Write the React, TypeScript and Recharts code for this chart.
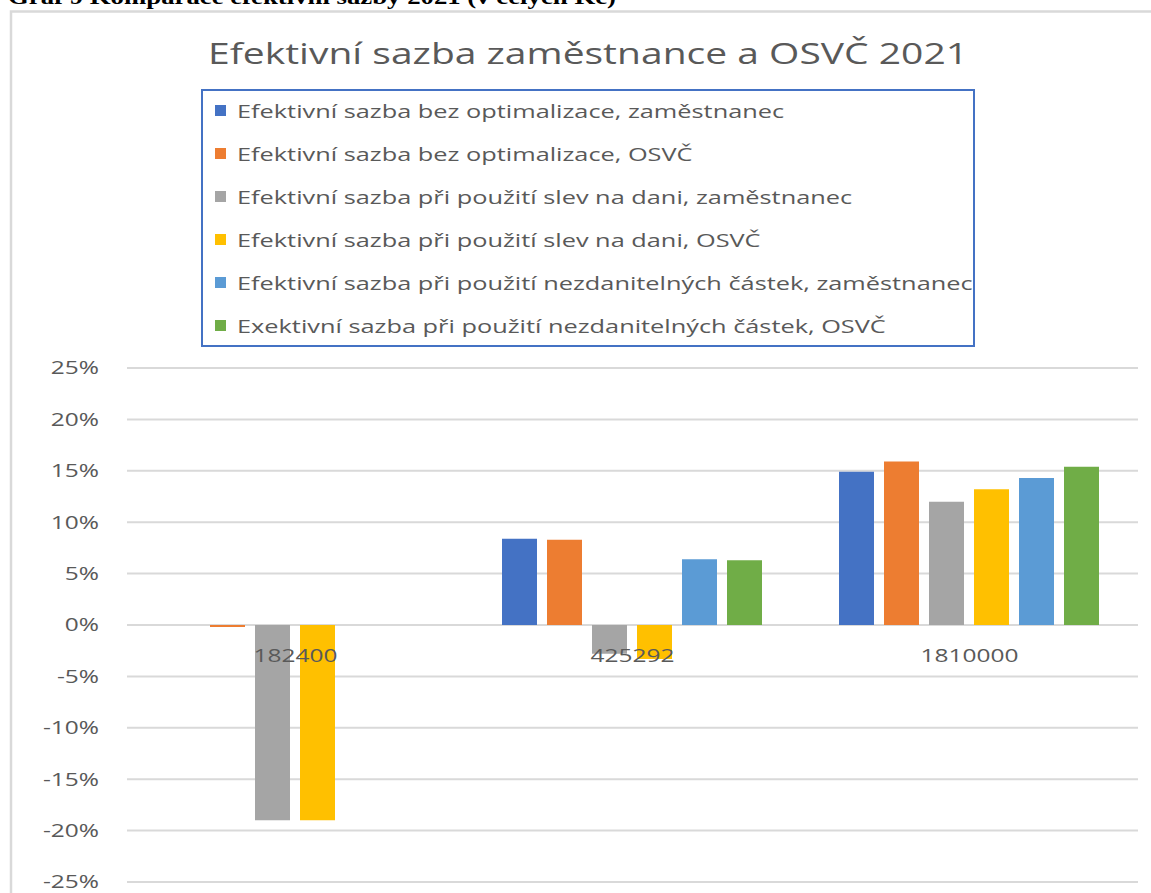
import React from 'react';
import { BarChart, Bar, XAxis, YAxis, CartesianGrid, Legend, ReferenceDot } from 'recharts';

const categories = ['182400', '425292', '1810000'];
const seriesNames = [
  'Efektivní sazba bez optimalizace, zaměstnanec',
  'Efektivní sazba bez optimalizace, OSVČ',
  'Efektivní sazba při použití slev na dani, zaměstnanec',
  'Efektivní sazba při použití slev na dani, OSVČ',
  'Efektivní sazba při použití nezdanitelných částek, zaměstnanec',
  'Exektivní sazba při použití nezdanitelných částek, OSVČ',
];
const seriesColors = ['#4472C4', '#ED7D31', '#A5A5A5', '#FFC000', '#5B9BD5', '#70AD47'];
const bezOptZam = [0, 8.4, 14.9];
const bezOptOsvc = [-0.2, 8.3, 15.9];
const slevyZam = [-19.0, -2.8, 12.0];
const slevyOsvc = [-19.0, -3.3, 13.2];
const nezdZam = [0, 6.4, 14.3];
const nezdOsvc = [0, 6.3, 15.4];
const yTicks = [-25, -20, -15, -10, -5, 0, 5, 10, 15, 20, 25];
const titleText = 'Efektivní sazba zaměstnance a OSVČ 2021';
const captionText = 'Graf 9 Komparace efektivní sazby 2021 (v celých Kč)';

const seriesValues = [bezOptZam, bezOptOsvc, slevyZam, slevyOsvc, nezdZam, nezdOsvc];
const data = categories.map((cat, i) => {
  const row: any = { cat };
  seriesValues.forEach((vals, s) => {
    row['s' + s] = vals[i];
  });
  return row;
});

const FONT = "'Open Sans', sans-serif";
const TXT = '#595959';
const SX = 1.36;

const YTick = (props: any) => {
  const { x, y, payload } = props;
  return (
    <text
      transform={`translate(${x},${y}) scale(${SX},1)`}
      x={0}
      y={0}
      dy="0.36em"
      textAnchor="end"
      fontSize={18}
      fontFamily={FONT}
      fill={TXT}
    >
      {payload.value + '%'}
    </text>
  );
};

const makeCatLabel = (cat: string) => (props: any) => {
  const vb = props.viewBox || {};
  const cx = (vb.x || 0) + (vb.width || 0) / 2;
  const cy = (vb.y || 0) + (vb.height || 0) / 2;
  return (
    <text
      transform={`translate(${cx},${cy + 37}) scale(${SX},1)`}
      x={0}
      y={0}
      textAnchor="middle"
      fontSize={18}
      fontFamily={FONT}
      fill={TXT}
    >
      {cat}
    </text>
  );
};

const LegendContent = () => (
  <svg width={776} height={260} style={{ display: 'block', overflow: 'visible' }}>
    <defs>
      <clipPath id="lgclip">
        <rect x={2} y={2} width={770} height={254} />
      </clipPath>
    </defs>
    <rect x={1} y={1} width={772} height={256} fill="#fff" stroke="#4472C4" strokeWidth={2} />
    <g clipPath="url(#lgclip)">
      {seriesNames.map((name, i) => {
        const cy = 22 + i * 43;
        return (
          <g key={name}>
            <rect x={14} y={cy - 6} width={11} height={11} fill={seriesColors[i]} />
            <text
              transform={`translate(36,${cy + 6.5}) scale(1.37,1)`}
              x={0}
              y={0}
              fontSize={18.5}
              fontFamily={FONT}
              fill={TXT}
            >
              {name}
            </text>
          </g>
        );
      })}
    </g>
  </svg>
);

export default function App() {
  return (
    <div style={{ position: 'absolute', left: 0, top: 0, width: 1151, height: 893, overflow: 'hidden', background: '#fff' }}>
      <svg width={1151} height={893} style={{ position: 'absolute', left: 0, top: 0 }}>
        <text
          x={8}
          y={4}
          fontSize={22}
          fontWeight="bold"
          fontFamily="'Liberation Serif', 'Times New Roman', serif"
          fill="#000"
          textLength={608}
          lengthAdjust="spacingAndGlyphs"
        >
          {captionText}
        </text>
        <rect x={11} y={11.5} width={1300} height={1000} fill="#fff" stroke="#D9D9D9" strokeWidth={2.5} />
        <text
          x={588}
          y={64}
          textAnchor="middle"
          fontSize={30}
          fontFamily={FONT}
          fill={TXT}
          textLength={760}
          lengthAdjust="spacingAndGlyphs"
        >
          {titleText}
        </text>
      </svg>
      <div style={{ position: 'absolute', left: 0, top: 0 }}>
        <BarChart
          width={1151}
          height={900}
          data={data}
          margin={{ top: 368, right: 13, bottom: 18, left: 0 }}
          barCategoryGap={38}
          barGap={10}
        >
          <CartesianGrid vertical={false} stroke="#D9D9D9" strokeWidth={2} />
          <XAxis dataKey="cat" hide />
          <YAxis
            width={127}
            domain={[-25, 25]}
            ticks={yTicks}
            axisLine={false}
            tickLine={false}
            tickSize={0}
            tickMargin={28}
            tick={<YTick />}
            interval={0}
          />
          <Legend
            layout="vertical"
            align="center"
            verticalAlign="middle"
            wrapperStyle={{ left: 201, top: 89, width: 776, height: 260 }}
            content={<LegendContent />}
          />
          {seriesNames.map((name, i) => (
            <Bar key={name} dataKey={'s' + i} name={name} fill={seriesColors[i]} isAnimationActive={false} />
          ))}
          {categories.map((cat) => (
            <ReferenceDot
              key={cat}
              x={cat}
              y={0}
              r={0}
              fill="none"
              stroke="none"
              ifOverflow="visible"
              label={makeCatLabel(cat)}
            />
          ))}
        </BarChart>
      </div>
    </div>
  );
}
